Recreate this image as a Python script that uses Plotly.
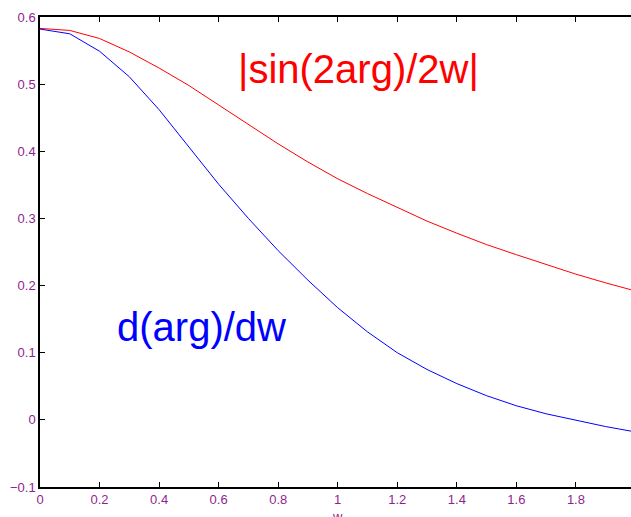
import plotly.graph_objects as go

w = [0.0, 0.1, 0.2, 0.3, 0.4, 0.5, 0.6, 0.7, 0.8, 0.9, 1.0,
     1.1, 1.2, 1.3, 1.4, 1.5, 1.6, 1.7, 1.8, 1.9, 2.0]
sin_ratio = [0.583, 0.580, 0.568, 0.548, 0.524, 0.498, 0.469, 0.440, 0.411, 0.384, 0.359,
             0.337, 0.316, 0.296, 0.278, 0.261, 0.246, 0.231, 0.217, 0.204, 0.192]
darg_dw = [0.582, 0.575, 0.549, 0.511, 0.462, 0.406, 0.351, 0.300, 0.252, 0.208, 0.167,
           0.131, 0.100, 0.075, 0.054, 0.036, 0.021, 0.009, -0.001, -0.010, -0.018]
x_ticks = [0, 0.2, 0.4, 0.6, 0.8, 1, 1.2, 1.4, 1.6, 1.8]
x_tick_labels = ["0", "0.2", "0.4", "0.6", "0.8", "1", "1.2", "1.4", "1.6", "1.8"]
y_ticks = [-0.1, 0, 0.1, 0.2, 0.3, 0.4, 0.5, 0.6]
y_tick_labels = ["\u22120.1", "0", "0.1", "0.2", "0.3", "0.4", "0.5", "0.6"]
x_title = "w"

tick_color = "#8f1f8f"
font_family = "Liberation Sans, Arial, sans-serif"

fig = go.Figure()
fig.add_trace(go.Scatter(x=w, y=sin_ratio, mode="lines",
                         line=dict(color="#ff0000", width=1), showlegend=False))
fig.add_trace(go.Scatter(x=w, y=darg_dw, mode="lines",
                         line=dict(color="#0000ff", width=1), showlegend=False))

fig.add_annotation(x=1.071, y=0.522, text="|sin(2arg)/2w|", showarrow=False,
                   xanchor="center", yanchor="middle",
                   font=dict(family=font_family, size=40, color="#ff0000"))
fig.add_annotation(x=0.542, y=0.139, text="d(arg)/dw", showarrow=False,
                   xanchor="center", yanchor="middle",
                   font=dict(family=font_family, size=40, color="#0000ff"))
# x-axis title (partly cut off at the bottom edge, as in the reference)
fig.add_annotation(x=1.0, xref="x", y=-0.043, yref="paper", text=x_title,
                   showarrow=False, xanchor="center", yanchor="top",
                   font=dict(family=font_family, size=13, color=tick_color))

fig.update_layout(
    width=631, height=517,
    margin=dict(l=40, r=0, t=17, b=30, autoexpand=False),
    paper_bgcolor="white", plot_bgcolor="white",
    font=dict(family=font_family, size=13, color=tick_color),
)
fig.update_xaxes(
    range=[0, 1.985], tickvals=x_ticks, ticktext=x_tick_labels,
    showgrid=False, zeroline=False, automargin=False,
    showline=True, linecolor="black", linewidth=1.5, mirror="ticks",
    ticks="inside", ticklen=5, tickcolor="black", tickwidth=1,
    tickfont=dict(size=13, color=tick_color),
)
fig.update_yaxes(
    range=[-0.1, 0.6], tickvals=y_ticks, ticktext=y_tick_labels,
    showgrid=False, zeroline=False, automargin=False,
    showline=True, linecolor="black", linewidth=1.5, mirror=False,
    ticks="inside", ticklen=5, tickcolor="black", tickwidth=1,
    tickfont=dict(size=13, color=tick_color),
)

fig.write_html("out.html")
